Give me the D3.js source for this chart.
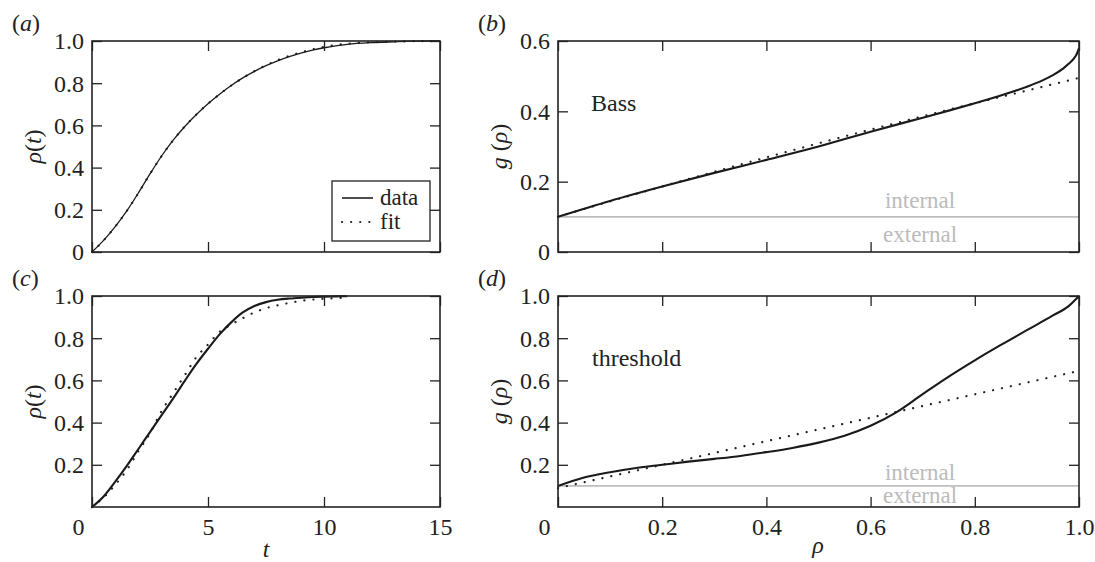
<!DOCTYPE html>
<html>
<head>
<meta charset="UTF-8">
<style>
  body { margin: 0; background: #fff; }
  svg text { font-family: "Times New Roman", "Liberation Serif", Tinos, serif; fill: #222; }
  .tick line { stroke: #222; stroke-width: 1.3; }
  .domain { display: none; }
</style>
</head>
<body>
<svg id="chart" width="1095" height="562"></svg>
<script src="https://d3js.org/d3.v7.min.js"></script>
<script>
// ---- data ----
// (a) Bass model, rho(t)
const tA = [0,0.5,1,1.5,2,2.5,3,3.5,4,4.5,5,5.5,6,6.5,7,7.5,8,8.5,9,9.5,10,10.5,11,12,13,14,15];
const rhoAData = [0,0.055,0.12,0.195,0.28,0.37,0.455,0.53,0.595,0.652,0.703,0.748,0.789,0.825,0.856,0.883,0.906,0.926,0.943,0.957,0.968,0.977,0.984,0.992,0.996,0.999,1.0];
const rhoAFit  = [0,0.055,0.12,0.195,0.28,0.37,0.455,0.53,0.595,0.652,0.703,0.748,0.789,0.825,0.857,0.885,0.909,0.929,0.946,0.96,0.972,0.981,0.987,0.994,0.997,0.999,1.0];

// (c) threshold model, rho(t)
const tC = [0,0.5,1,1.5,2,2.5,3,3.5,4,4.5,5,5.5,6,6.5,7,7.5,8,8.5,9,9.5,10,10.5,11];
const rhoCData = [0,0.05,0.12,0.195,0.275,0.355,0.435,0.515,0.598,0.678,0.75,0.818,0.875,0.922,0.953,0.971,0.982,0.988,0.992,0.995,0.997,0.998,0.999];
const rhoCFit  = [0,0.045,0.105,0.175,0.265,0.35,0.455,0.54,0.625,0.71,0.77,0.83,0.865,0.895,0.922,0.942,0.956,0.967,0.977,0.983,0.987,0.99,0.993];

// (b) Bass, g(rho)
const rhoB = [0,0.1,0.2,0.3,0.4,0.5,0.6,0.7,0.75,0.8,0.85,0.9,0.93,0.95,0.97,0.98,0.99,0.995,1.0];
const gBData = [0.1,0.145,0.186,0.225,0.262,0.3,0.342,0.382,0.402,0.423,0.445,0.47,0.488,0.503,0.522,0.535,0.55,0.561,0.58];
const rhoBFit = [0,0.1,0.2,0.3,0.4,0.5,0.6,0.7,0.8,0.9,1.0];
const gBFit = [0.1,0.144,0.186,0.228,0.269,0.309,0.348,0.386,0.423,0.459,0.495];

// (d) threshold, g(rho)
const rhoD = [0,0.05,0.1,0.15,0.2,0.25,0.3,0.35,0.4,0.45,0.5,0.55,0.6,0.65,0.7,0.75,0.8,0.85,0.9,0.95,0.98,1.0];
const gDData = [0.1,0.14,0.165,0.185,0.2,0.215,0.228,0.242,0.26,0.28,0.305,0.338,0.385,0.45,0.535,0.618,0.695,0.768,0.838,0.908,0.952,1.0];
const rhoDFit = [0,0.2,0.4,0.6,0.8,1.0];
const gDFit = [0.09,0.2,0.312,0.423,0.534,0.645];

const baseLevel = 0.1;  // internal / external split

const svg = d3.select("#chart");
const FS = 24;

function panel(opt) {
  const x = d3.scaleLinear().domain(opt.xd).range([opt.x0, opt.x1]);
  const y = d3.scaleLinear().domain(opt.yd).range([opt.y1, opt.y0]);
  const g = svg.append("g");
  const yfmt = v => v === 0 ? "0" : d3.format(".1f")(v);
  const xfmt = v => v === 0 ? "0" : d3.format(opt.xfmt || ".1f")(v);

  // reference line
  if (opt.ref) {
    g.append("line").attr("x1", opt.x0).attr("x2", opt.x1)
      .attr("y1", y(baseLevel)).attr("y2", y(baseLevel))
      .attr("stroke", "#bdbdbd").attr("stroke-width", 1.6);
    g.append("text").attr("x", x(0.695)).attr("y", y(baseLevel) - opt.gapUp)
      .attr("text-anchor", "middle").attr("font-size", 23).style("fill", "#bbb").text("internal");
    g.append("text").attr("x", x(0.695)).attr("y", y(baseLevel) + opt.gapDown)
      .attr("text-anchor", "middle").attr("font-size", 23).style("fill", "#bbb").text("external");
  }

  const line = d3.line().x(d => x(d[0])).y(d => y(d[1])).curve(d3.curveMonotoneX);
  g.append("path").datum(d3.zip(opt.fitX, opt.fitY)).attr("d", line)
    .attr("fill", "none").attr("stroke", "#222").attr("stroke-width", 2.2)
    .attr("stroke-dasharray", "0.1 9").attr("stroke-linecap", "round");
  g.append("path").datum(d3.zip(opt.dataX, opt.dataY)).attr("d", line)
    .attr("fill", "none").attr("stroke", "#1a1a1a").attr("stroke-width", opt.lw || 2.1);

  // axes with inward ticks on all four sides
  const left = g.append("g").attr("transform", `translate(${opt.x0},0)`)
    .call(d3.axisLeft(y).tickValues(opt.yt).tickSizeInner(-10).tickSizeOuter(0).tickPadding(8).tickFormat(yfmt));
  left.selectAll("text").attr("font-size", FS).attr("dy", "0.33em");
  g.append("g").attr("transform", `translate(${opt.x1},0)`)
    .call(d3.axisRight(y).tickValues(opt.yt).tickSizeInner(-10).tickSizeOuter(0).tickFormat(""));
  const bottom = g.append("g").attr("transform", `translate(0,${opt.y1})`)
    .call(d3.axisBottom(x).tickValues(opt.xt).tickSizeInner(-10).tickSizeOuter(0).tickPadding(11)
      .tickFormat(opt.xlabels ? xfmt : ""));
  bottom.selectAll("text").attr("font-size", FS);
  bottom.selectAll(".tick").filter(d => d === 0).select("text").attr("dx", -14);
  g.append("g").attr("transform", `translate(0,${opt.y0})`)
    .call(d3.axisTop(x).tickValues(opt.xt).tickSizeInner(-10).tickSizeOuter(0).tickFormat(""));
  svg.selectAll(".tick text").style("fill", "#222");

  g.append("rect").attr("x", opt.x0).attr("y", opt.y0)
    .attr("width", opt.x1 - opt.x0).attr("height", opt.y1 - opt.y0)
    .attr("fill", "none").attr("stroke", "#222").attr("stroke-width", 1.6);

  // panel letter
  const pl = g.append("text").attr("x", opt.x0 - 80).attr("y", opt.y0 - 10).attr("font-size", FS);
  pl.append("tspan").text("(");
  pl.append("tspan").attr("font-style", "italic").text(opt.letter);
  pl.append("tspan").text(")");

  // y label
  const yl = g.append("text")
    .attr("transform", `translate(${opt.x0 - 58},${(opt.y0 + opt.y1) / 2}) rotate(-90)`)
    .attr("text-anchor", "middle").attr("font-size", FS).attr("dy", "0.3em");
  opt.ylab(yl);

  return { x, y, g };
}

function labRho(t) {
  t.append("tspan").attr("font-style", "italic").text("ρ");
  t.append("tspan").text("(");
  t.append("tspan").attr("font-style", "italic").text("t");
  t.append("tspan").text(")");
}
function labG(t) {
  t.append("tspan").attr("font-style", "italic").text("g");
  t.append("tspan").text(" (");
  t.append("tspan").attr("font-style", "italic").text("ρ");
  t.append("tspan").text(")");
}

const tTicks = [0, 5, 10, 15];
const rTicks = [0, 0.2, 0.4, 0.6, 0.8, 1.0];

const pa = panel({ letter: "a", x0: 92, x1: 440, y0: 41, y1: 252, xd: [0, 15], yd: [0, 1],
  xt: tTicks, yt: [0, 0.2, 0.4, 0.6, 0.8, 1.0], xfmt: "d",
  dataX: tA, dataY: rhoAData, fitX: tA, fitY: rhoAFit, lw: 1.3, ylab: labRho });

const pb = panel({ letter: "b", x0: 558, x1: 1079, y0: 41, y1: 252, xd: [0, 1], yd: [0, 0.6],
  xt: rTicks, yt: [0, 0.2, 0.4, 0.6], ref: true, gapUp: 9, gapDown: 25,
  dataX: rhoB, dataY: gBData, fitX: rhoBFit, fitY: gBFit, ylab: labG });

const pc = panel({ letter: "c", x0: 92, x1: 440, y0: 296, y1: 507, xd: [0, 15], yd: [0, 1],
  xt: tTicks, yt: [0.2, 0.4, 0.6, 0.8, 1.0], xfmt: "d", xlabels: true,
  dataX: tC, dataY: rhoCData, fitX: tC, fitY: rhoCFit, ylab: labRho });

const pd = panel({ letter: "d", x0: 558, x1: 1079, y0: 296, y1: 507, xd: [0, 1], yd: [0, 1],
  xt: rTicks, yt: [0.2, 0.4, 0.6, 0.8, 1.0], ref: true, xlabels: true, gapUp: 6, gapDown: 17,
  dataX: rhoD, dataY: gDData, fitX: rhoDFit, fitY: gDFit, ylab: labG });

// model names
pb.g.append("text").attr("x", 591).attr("y", 111).attr("font-size", FS).text("Bass");
pd.g.append("text").attr("x", 592).attr("y", 366).attr("font-size", FS).text("threshold");

// x labels
svg.append("text").attr("x", 266).attr("y", 557).attr("text-anchor", "middle")
  .attr("font-size", FS).attr("font-style", "italic").text("t");
svg.append("text").attr("x", 818).attr("y", 553).attr("text-anchor", "middle")
  .attr("font-size", FS).attr("font-style", "italic").text("ρ");

// legend in panel (a)
const lg = svg.append("g");
lg.append("rect").attr("x", 332).attr("y", 181).attr("width", 98).attr("height", 60)
  .attr("fill", "#fff").attr("stroke", "#222").attr("stroke-width", 1.3);
const legItems = ["data", "fit"];
legItems.forEach((name, i) => {
  const cy = 198 + i * 24;
  lg.append("line").attr("x1", 342).attr("x2", 373).attr("y1", cy).attr("y2", cy)
    .attr("stroke", "#222").attr("stroke-width", name === "data" ? 1.6 : 2.2)
    .attr("stroke-dasharray", name === "data" ? null : "0.1 9")
    .attr("stroke-linecap", name === "data" ? "butt" : "round");
  lg.append("text").attr("x", 380).attr("y", cy + 7).attr("font-size", 23).text(name);
});
</script>
</body>
</html>
